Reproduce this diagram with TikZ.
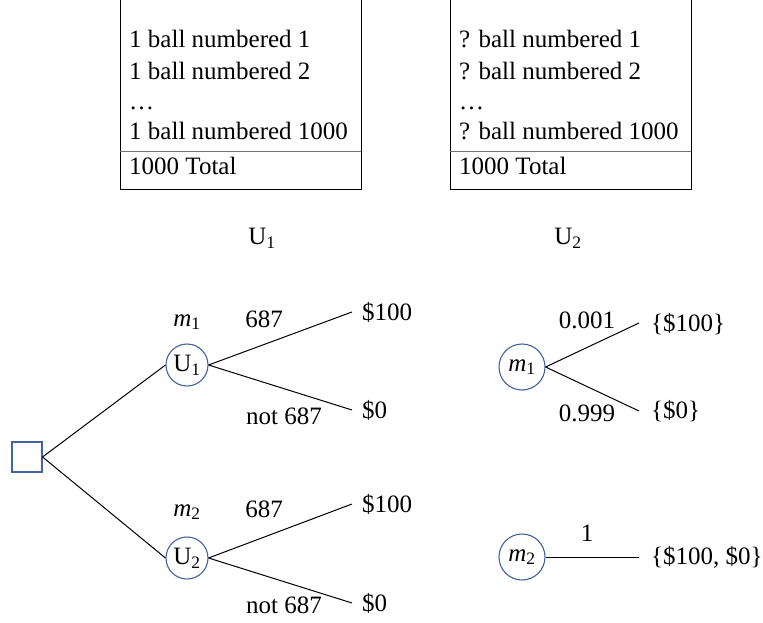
\documentclass[tikz,border=0pt]{standalone}
\usepackage{fontspec}
\setmainfont{Liberation Serif}
\definecolor{nodeblue}{RGB}{66,98,160}
\begin{document}
\begin{tikzpicture}[x=1pt,y=-1pt,
  txt/.style={font=\fontsize{25}{30}\selectfont, inner sep=0pt},
  boxline/.style={line width=1pt, black},
  sepline/.style={line width=1pt, black!55},
  chance/.style={circle, draw=nodeblue, line width=1.1pt, minimum size=42pt, inner sep=0pt, font=\fontsize{25}{30}\selectfont},
  mchance/.style={chance, minimum size=46pt},
  decision/.style={rectangle, draw=nodeblue, line width=1.1pt, minimum size=30pt, inner sep=0pt},
  branch/.style={line width=1pt, black}]
\useasboundingbox (0,0) rectangle (763,623);
% Urn boxes
\coordinate (b1tl) at (120,0);
\coordinate (b1bl) at (120,189);
\coordinate (b1br) at (361,189);
\coordinate (b1tr) at (361,0);
\draw[boxline] (b1tl) -- (b1bl) -- (b1br) -- (b1tr);
\coordinate (s1l) at (120,152);
\coordinate (s1r) at (361,152);
\draw[sepline] (s1l) -- (s1r);
\node[txt, anchor=base west] (a1) at (129,48) {1 ball numbered 1};
\node[txt, anchor=base west] (a2) at (129,80) {1 ball numbered 2};
\node[txt, anchor=base west] (a3) at (129,110) {\dots};
\node[txt, anchor=base west] (a4) at (129,140) {1 ball numbered 1000};
\node[txt, anchor=base west] (a5) at (129,175) {1000 Total};
\node[txt] (u1lab) at (262,238) {U\textsubscript{1}};

\coordinate (b2tl) at (450,0);
\coordinate (b2bl) at (450,189);
\coordinate (b2br) at (691,189);
\coordinate (b2tr) at (691,0);
\draw[boxline] (b2tl) -- (b2bl) -- (b2br) -- (b2tr);
\coordinate (s2l) at (450,152);
\coordinate (s2r) at (691,152);
\draw[sepline] (s2l) -- (s2r);
\node[txt, anchor=base west] (c1) at (459,48) {? ball numbered 1};
\node[txt, anchor=base west] (c2) at (459,80) {? ball numbered 2};
\node[txt, anchor=base west] (c3) at (459,110) {\dots};
\node[txt, anchor=base west] (c4) at (459,140) {? ball numbered 1000};
\node[txt, anchor=base west] (c5) at (459,175) {1000 Total};
\node[txt] (u2lab) at (568,238) {U\textsubscript{2}};

% Left decision tree
\node[decision] (d) at (27,457) {};
\node[chance] (U1) at (187,365) {U\textsubscript{1}};
\node[chance] (U2) at (187,558) {U\textsubscript{2}};
\node[txt] (m1) at (187,322) {\textit{m}\textsubscript{1}};
\node[txt] (m2) at (187,512) {\textit{m}\textsubscript{2}};
\draw[branch] (d.east) -- (U1.west);
\draw[branch] (d.east) -- (U2.west);
\coordinate (e1) at (352,312);
\coordinate (e2) at (352,410);
\coordinate (e3) at (352,504);
\coordinate (e4) at (352,603);
\draw[branch] (U1.east) -- (e1);
\draw[branch] (U1.east) -- (e2);
\draw[branch] (U2.east) -- (e3);
\draw[branch] (U2.east) -- (e4);
\node[txt, anchor=west] (o1) at (362,312) {\$100};
\node[txt, anchor=west] (o2) at (362,410) {\$0};
\node[txt, anchor=west] (o3) at (362,504) {\$100};
\node[txt, anchor=west] (o4) at (362,603) {\$0};
\node[txt] (l1) at (264,319) {687};
\node[txt] (l2) at (284,416) {not 687};
\node[txt] (l3) at (264,509) {687};
\node[txt] (l4) at (284,605) {not 687};

% Right trees
\node[mchance] (M1) at (522,367) {\textit{m}\textsubscript{1}};
\node[mchance] (M2) at (522,557) {\textit{m}\textsubscript{2}};
\coordinate (f1) at (639,323);
\coordinate (f2) at (639,411);
\coordinate (f3) at (639,557);
\draw[branch] (M1.east) -- (f1);
\draw[branch] (M1.east) -- (f2);
\draw[branch] (M2.east) -- (f3);
\node[txt, anchor=west] (p1) at (651,324) {\{\$100\}};
\node[txt, anchor=west] (p2) at (651,411) {\{\$0\}};
\node[txt, anchor=west] (p3) at (651,557) {\{\$100, \$0\}};
\node[txt] (q1) at (587,320) {0.001};
\node[txt] (q2) at (587,413) {0.999};
\node[txt] (q3) at (587,533) {1};
\end{tikzpicture}
\end{document}
